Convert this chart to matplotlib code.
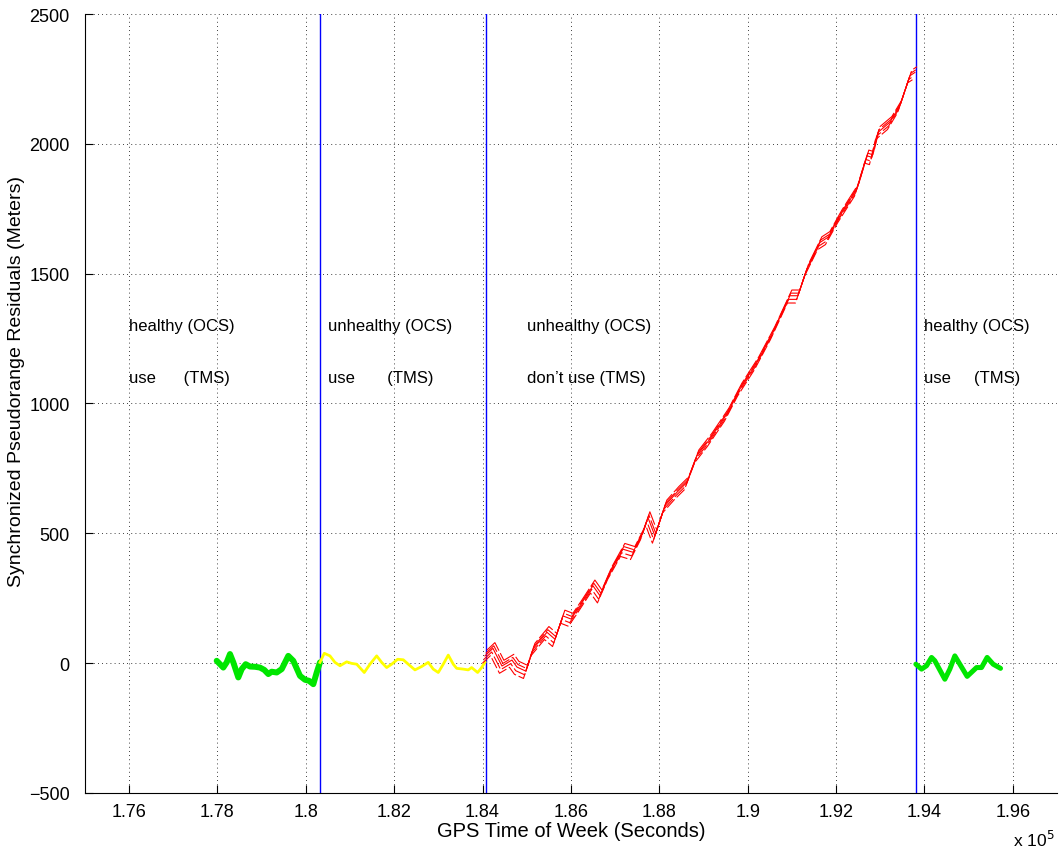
import matplotlib
matplotlib.use("Agg")
import matplotlib.pyplot as plt
import numpy as np

plt.rcParams['font.family'] = ['Liberation Sans', 'DejaVu Sans']

# ---- data ----
green1_x = [177984, 178133, 178210, 178285, 178360, 178473, 178550, 178640, 178737,
            178851, 178963, 179061, 179152, 179228, 179342, 179455, 179604, 179717,
            179869, 179982, 180073, 180170, 180247, 180321]
green1_y = [9, -17, 3, 35, 3, -55, -23, -4, -13, -14, -17, -26, -42, -33, -36, -23,
            28, 9, -49, -64, -68, -81, -36, 3]

yellow_x = [180321, 180418, 180547, 180660, 180774, 180925, 181038, 181152, 181323,
            181452, 181604, 181717, 181830, 181943, 182079, 182206, 182319, 182470,
            182622, 182771, 182884, 182998, 183111, 183224, 183337, 183414, 183563,
            183676, 183753, 183889, 183979, 184054]
yellow_y = [3, 38, 28, 3, -10, 5, -1, -4, -36, -4, 28, 3, -17, -4, 15, 13, -4, -26,
            -13, 3, -23, -36, -4, 31, -4, -20, -23, -26, -17, -36, -17, 3]

red_x = [184054, 184235, 184439, 184665, 184778, 184982, 185140, 185457, 185640,
         185819, 186000, 186204, 186498, 186656, 186882, 187176, 187403, 187629,
         187742, 187900, 188126, 188398, 188624, 188851, 189145, 189530, 189824,
         190208, 190570, 190955, 191136, 191340, 191634, 191815, 192087, 192471,
         192697, 192811, 192946, 193218, 193444, 193670, 193784]
red_y = [28, 57, -11, 12, -15, -31, 54, 119, 92, 182, 170, 221, 298, 260, 349, 439,
         427, 503, 561, 490, 606, 658, 696, 799, 863, 960, 1056, 1158, 1274, 1415,
         1415, 1518, 1620, 1640, 1723, 1826, 1954, 1948, 2044, 2083, 2147, 2262, 2275]
red_strand_offsets = [-28, -14, 0, 10, 22]

green2_x = [193805, 193934, 194047, 194160, 194235, 194461, 194574, 194687, 194966,
            195178, 195291, 195418, 195554, 195721]
green2_y = [-4, -23, -10, 22, 9, -62, -23, 28, -51, -17, -17, 22, -4, -20]

event_times = [180330, 184070, 193810]

label_x = [176000, 180500, 185000, 194000]
ocs_labels = ['healthy (OCS)', 'unhealthy (OCS)', 'unhealthy (OCS)', 'healthy (OCS)']
tms_labels = ['use      (TMS)', 'use       (TMS)', 'don\u2019t use (TMS)', 'use     (TMS)']
ocs_y = 1300
tms_y = 1100

xticks = [176000, 178000, 180000, 182000, 184000, 186000, 188000, 190000, 192000,
          194000, 196000]
xticklabels = ['1.76', '1.78', '1.8', '1.82', '1.84', '1.86', '1.88', '1.9', '1.92',
               '1.94', '1.96']
yticks = [-500, 0, 500, 1000, 1500, 2000, 2500]
yticklabels = ['\u2212500', '0', '500', '1000', '1500', '2000', '2500']

# ---- figure ----
fig = plt.figure(figsize=(10.63, 8.53), dpi=100)
ax = fig.add_axes([0.0798, 0.0692, 0.9944 - 0.0798, 0.9824 - 0.0692])

ax.plot(green1_x, green1_y, color='#00e600', lw=4.3, solid_capstyle='round',
        solid_joinstyle='round', zorder=3)
ax.plot(yellow_x, yellow_y, color='#ffff00', lw=2.0, solid_joinstyle='round', zorder=3)
rx = np.array(red_x, dtype=float)
ry = np.array(red_y, dtype=float)
for k, off in enumerate(red_strand_offsets):
    ls = '-' if off == 0 else (0, (10 + 2 * k, 2.5))
    ax.plot(rx + off * 2, ry + off, color='#ff0000', lw=0.8, ls=ls, zorder=3)
ax.plot(green2_x, green2_y, color='#00e600', lw=3.6, solid_capstyle='round',
        solid_joinstyle='round', zorder=3)

for t in event_times:
    ax.axvline(t, color='#0000ff', lw=1.0, zorder=2)

for lx, o, t in zip(label_x, ocs_labels, tms_labels):
    ax.text(lx, ocs_y, o, fontsize=12, va='center', ha='left')
    ax.text(lx, tms_y, t, fontsize=12, va='center', ha='left')

ax.set_xlim(175000, 197000)
ax.set_ylim(-500, 2500)
ax.set_xticks(xticks)
ax.set_xticklabels(xticklabels)
ax.set_yticks(yticks)
ax.set_yticklabels(yticklabels)
ax.tick_params(direction='in', length=6, labelsize=13, width=0.8)
ax.tick_params(axis='y', pad=11)
ax.tick_params(axis='x', pad=7)
ax.spines['top'].set_visible(False)
ax.spines['right'].set_visible(False)
ax.grid(True, color='black', ls=(0, (1, 4)), lw=0.6)
ax.set_axisbelow(True)

ax.set_xlabel('GPS Time of Week (Seconds)', fontsize=14.5, labelpad=1)
ax.set_ylabel('Synchronized Pseudorange Residuals (Meters)', fontsize=14, labelpad=6)
ax.yaxis.set_label_coords(-0.062, 0.53)

fig.text(0.953, 0.004, r'x 10$^5$', fontsize=12.5, ha='left', va='bottom')

fig.savefig('out.png', dpi=100)
